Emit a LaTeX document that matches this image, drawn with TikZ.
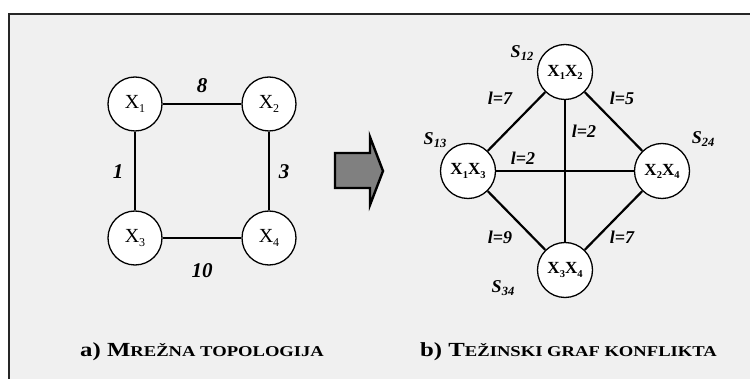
\documentclass[tikz,border=0pt]{standalone}
\usepackage{fontspec}
\setmainfont{Liberation Serif}
\newcommand\lsub[2]{\raisebox{-0.4ex}{\fontsize{#1}{#1}\selectfont #2}}
\newcommand\smc[1]{{\fontsize{15}{16}\selectfont #1}}
\definecolor{bgray}{HTML}{F0F0F0}
\definecolor{agray}{HTML}{808080}
\tikzset{
  vnode/.style={circle,draw=black,line width=1.3pt,fill=white,minimum size=54pt,inner sep=0pt,font=\fontsize{20}{22}\selectfont},
  cnode/.style={circle,draw=black,line width=1.3pt,fill=white,minimum size=55pt,inner sep=0pt,font=\fontsize{17}{18}\selectfont\bfseries},
  edge/.style={line width=2.2pt},
  wlab/.style={font=\fontsize{21}{22}\selectfont\bfseries\itshape,inner sep=0pt},
  llab/.style={font=\fontsize{18}{19}\selectfont\bfseries\itshape,inner sep=0pt},
  slab/.style={font=\fontsize{18}{20}\selectfont\bfseries\itshape,inner sep=0pt},
  captext/.style={font=\fontsize{20}{22}\selectfont\bfseries,inner sep=0pt,anchor=base west}
}
\begin{document}
\begin{tikzpicture}[x=1pt,y=-1pt]
\useasboundingbox (0,0) rectangle (750,379);
\fill[white] (0,0) rectangle (750,379);
\fill[bgray] (9,14) rectangle (750,379);
\draw[line width=1.6pt,black!85] (9,379) -- (9,14) -- (750,14);

% left graph
\node[vnode] (x1) at (135,104) {X\lsub{12}{1}};
\node[vnode] (x2) at (269,104) {X\lsub{12}{2}};
\node[vnode] (x3) at (135,238) {X\lsub{12}{3}};
\node[vnode] (x4) at (269,238) {X\lsub{12}{4}};
\draw[edge] (x1) -- (x2);
\draw[edge] (x1) -- (x3);
\draw[edge] (x2) -- (x4);
\draw[edge] (x3) -- (x4);
\node[wlab] (w8) at (202,86) {8};
\node[wlab] (w1) at (118,172) {1};
\node[wlab] (w3) at (284,172) {3};
\node[wlab] (w10) at (202,271) {10};

% arrow
\draw[line width=2.4pt,fill=agray,line join=miter] (335,153) -- (370,153) -- (370,137) -- (383,171) -- (370,205) -- (370,188) -- (335,188) -- cycle;

% right graph
\node[cnode] (c12) at (565,72) {X\lsub{10.5}{1}X\lsub{10.5}{2}};
\node[cnode] (c13) at (468,171) {X\lsub{10.5}{1}X\lsub{10.5}{3}};
\node[cnode] (c24) at (662,171) {X\lsub{10.5}{2}X\lsub{10.5}{4}};
\node[cnode] (c34) at (565,270) {X\lsub{10.5}{3}X\lsub{10.5}{4}};
\draw[edge] (c12) -- (c13);
\draw[edge] (c12) -- (c24);
\draw[edge] (c13) -- (c34);
\draw[edge] (c24) -- (c34);
\draw[edge] (c13) -- (c24);
\draw[edge] (c12) -- (c34);
\node[slab] (s12) at (522,53) {S\lsub{12.5}{12}};
\node[slab] (s13) at (435,140) {S\lsub{12.5}{13}};
\node[slab] (s24) at (703,139) {S\lsub{12.5}{24}};
\node[slab] (s34) at (503,288) {S\lsub{12.5}{34}};
\node[llab] (l7a) at (500,98) {l=7};
\node[llab] (l5) at (622,98) {l=5};
\node[llab] (l2v) at (584,131) {l=2};
\node[llab] (l2h) at (523,158) {l=2};
\node[llab] (l9) at (500,237) {l=9};
\node[llab] (l7b) at (622,237) {l=7};

% captions
\node[captext] (capa) at (80,357) {\scalebox{1.24}[1]{a) M\smc{REŽNA TOPOLOGIJA}}};
\node[captext] (capb) at (420,357) {\scalebox{1.24}[1]{b) T\smc{EŽINSKI GRAF KONFLIKTA}}};
\end{tikzpicture}
\end{document}
